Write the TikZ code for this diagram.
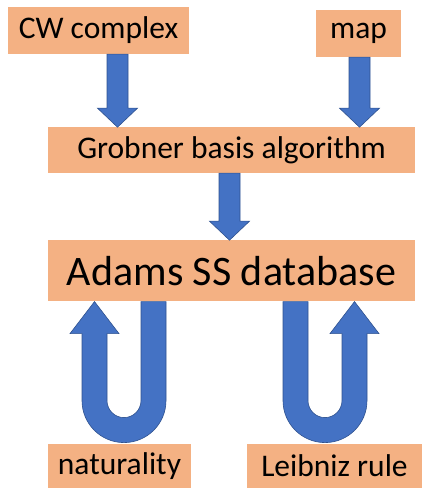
\documentclass[tikz,border=0pt]{standalone}
\usepackage{fontspec}
\setmainfont{Carlito}
\usepackage{tikz}
\usetikzlibrary{positioning,calc}

\definecolor{boxorange}{RGB}{244,177,131}
\definecolor{arrowblue}{RGB}{68,114,196}
\definecolor{arrowline}{RGB}{47,82,143}

\begin{document}
\begin{tikzpicture}[
  x=1pt, y=1pt,
  box/.style={rectangle, fill=boxorange, inner sep=0pt,
    font=\fontsize{31.5}{36}\selectfont},
  bigbox/.style={box, font=\fontsize{42}{48}\selectfont},
  blockarrow/.style={fill=arrowblue, draw=arrowline, line width=0.6pt,
    line join=miter},
]
  \useasboundingbox (0,0) rectangle (422,488);
  % inputs
  \node[box, minimum width=181pt, minimum height=47pt] (cw) at (98.5,457.5) {CW complex};
  \node[box, minimum width=85pt, minimum height=47pt] (mapnode) at (358.5,454.5) {map};
  \node[box, minimum width=367pt, minimum height=46pt] (grob) at (231.5,338)
    {Grobner basis algorithm};
  \node[bigbox, minimum width=367pt, minimum height=61pt, below=67pt of grob] (adams)
    {Adams SS database};
  % rules
  \node[box, minimum width=143pt, minimum height=44pt] (nat) at (119.5,22) {naturality};
  \node[box, minimum width=175pt, minimum height=44pt] (leib) at (334.5,22) {Leibniz rule};

  % down arrows
  \filldraw[blockarrow] ([xshift=8.5pt]cw.south) -- ++(21,0) -- ++(0,-54)
    -- ++(9.5,0) -- ++(-20,-19) -- ++(-20,19) -- ++(9.5,0) -- cycle;
  \filldraw[blockarrow] ([xshift=-9.5pt]mapnode.south) -- ++(21,0) -- ++(0,-51)
    -- ++(9.5,0) -- ++(-20,-19) -- ++(-20,19) -- ++(9.5,0) -- cycle;
  \filldraw[blockarrow] ([xshift=-12.5pt]grob.south) -- ++(21,0) -- ++(0,-48)
    -- ++(9.5,0) -- ++(-20,-19) -- ++(-20,19) -- ++(9.5,0) -- cycle;

  % U-turn arrows
  \filldraw[blockarrow] (141,0 |- adams.south) -- ++(0,-99)
    arc[start angle=0, end angle=-180, radius=17] -- ++(0,67) -- ++(12,0)
    -- ++(-24.5,32) -- ++(-24.5,-32) -- ++(12,0) -- ++(0,-67)
    arc[start angle=180, end angle=360, radius=42] -- ++(0,99) -- cycle;
  \filldraw[blockarrow] (308,0 |- adams.south) -- ++(0,-99)
    arc[start angle=180, end angle=360, radius=17] -- ++(0,67) -- ++(-12,0)
    -- ++(24.5,32) -- ++(24.5,-32) -- ++(-12,0) -- ++(0,-67)
    arc[start angle=0, end angle=-180, radius=42] -- ++(0,99) -- cycle;
\end{tikzpicture}
\end{document}
